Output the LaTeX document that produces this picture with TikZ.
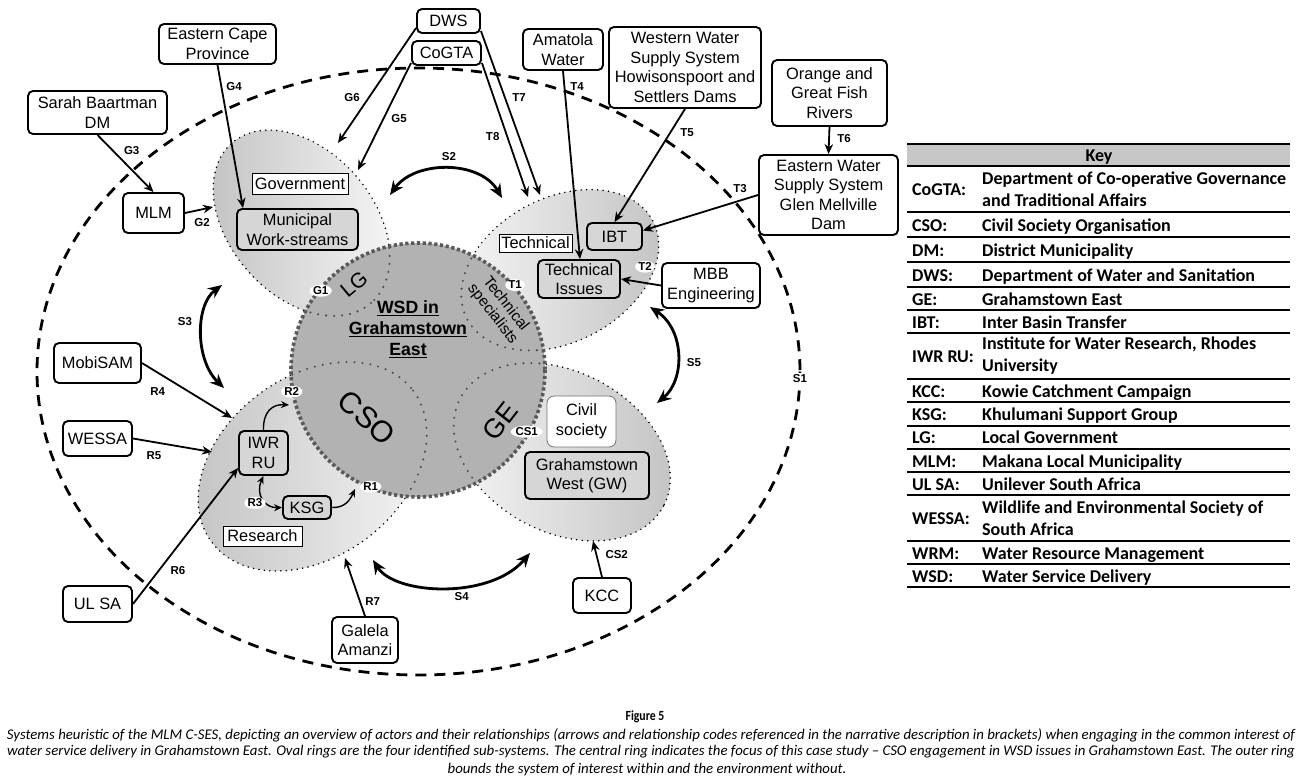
\documentclass[tikz,border=0pt]{standalone}
\usepackage{fontspec}
\setmainfont{Liberation Sans}
\newfontfamily\keyfont{Carlito}
\newfontfamily\figfont[FakeStretch=0.84]{Carlito}
\newfontfamily\capfont{Carlito}
\usetikzlibrary{arrows.meta,shapes.geometric,calc}
\begin{document}
\begin{tikzpicture}[x=1pt,y=-1pt,
  box/.style={draw,line width=1.9pt,rounded corners=5pt,fill=white,align=center,inner sep=0pt,font=\fontsize{16.4}{19.5}\selectfont},
  gbox/.style={box,fill=black!16},
  lbox/.style={draw,line width=0.8pt,fill=white,inner sep=0pt,font=\fontsize{16.4}{19.5}\selectfont},
  code/.style={font=\bfseries\fontsize{11.5}{12}\selectfont,inner sep=0.5pt},
  wcode/.style={code,fill=white,ellipse,inner sep=0.2pt},
  arr/.style={line width=1.8pt,-{Stealth[length=10pt,width=8.5pt]}},
  tarr/.style={line width=1.4pt,-{Stealth[length=8pt,width=7pt]}},
  darr/.style={line width=1.4pt,{Stealth[length=8pt,width=7pt]}-{Stealth[length=8pt,width=7pt]}},
  sarr/.style={line width=2.8pt,{Stealth[length=14pt,width=12pt]}-{Stealth[length=14pt,width=12pt]}},
  petal/.style={draw=black,line width=1.7pt,dash pattern=on 0pt off 5.5pt,line cap=round},
  innerline/.style={draw=black!70,line width=2.3pt,dash pattern=on 0pt off 8pt,line cap=round},
  keyab/.style={anchor=base west,inner sep=0pt,font=\keyfont\bfseries\fontsize{18}{22}\selectfont},
  keyd2/.style={anchor=west,inner sep=0pt,align=left,font=\keyfont\bfseries\fontsize{18}{22}\selectfont},
  capline/.style={font=\capfont\itshape\fontsize{14.8}{17}\selectfont,inner sep=0pt},
]
\useasboundingbox (0,0) rectangle (1302,782);
\fill[white] (0,0) rectangle (1302,782);

% outer ring
\draw[line width=2.8pt,dash pattern=on 11pt off 8pt] (418.5,371.5) ellipse (381.5 and 303.5);

% petals
\shade[left color=black!24,right color=black!3,rotate around={-49:(301.5,223)}] (301.5,223) ellipse (106 and 72);
\draw[petal,rotate around={-49:(301.5,223)}] (301.5,223) ellipse (106 and 72);
\shade[left color=black!3,right color=black!24,rotate around={28:(560,270)}] (560,270) ellipse (105 and 72);
\draw[petal,rotate around={28:(560,270)}] (560,270) ellipse (105 and 72);
\shade[left color=black!24,right color=black!3,rotate around={37:(312.5,466.5)}] (312.5,466.5) ellipse (126 and 90);
\draw[petal,rotate around={37:(312.5,466.5)}] (312.5,466.5) ellipse (126 and 90);
\shade[left color=black!3,right color=black!24,rotate around={-28:(562,452)}] (562,452) ellipse (115 and 80);
\draw[petal,rotate around={-28:(562,452)}] (562,452) ellipse (115 and 80);

% central ring
\fill[black!30] (418,370) circle (127);
\begin{scope}
  \clip (418,370) circle (127);
  \draw[innerline,rotate around={-49:(301.5,223)}] (301.5,223) ellipse (106 and 72);
  \draw[innerline,rotate around={28:(560,270)}] (560,270) ellipse (105 and 72);
  \draw[innerline,rotate around={37:(312.5,466.5)}] (312.5,466.5) ellipse (126 and 90);
  \draw[innerline,rotate around={-28:(562,452)}] (562,452) ellipse (115 and 80);
\end{scope}
\draw[draw=black!65,line width=3.6pt,dash pattern=on 3.2pt off 2.6pt] (418,370) circle (127);

\node[font=\bfseries\fontsize{17.7}{21}\selectfont,align=center,inner sep=0pt] (wsd) at (408,329) {\underline{WSD in}\\\underline{Grahamstown}\\\underline{East}};
\node[font=\fontsize{21}{24}\selectfont,rotate=40,inner sep=0pt] (lg) at (354,284) {LG};
\node[font=\fontsize{15.4}{16.5}\selectfont,rotate=-52,align=center,inner sep=0pt] (techsp) at (499,309) {Technical\\specialists};
\node[font=\fontsize{30}{32}\selectfont,rotate=-42,inner sep=0pt] (cso) at (367,418) {CSO};
\node[font=\fontsize{27}{30}\selectfont,rotate=52,inner sep=0pt] (ge) at (500,421) {GE};

% boxes
\node[box,minimum width=63pt,minimum height=24pt] (dws) at (448.5,21) {DWS};
\node[box,minimum width=69pt,minimum height=24pt] (cogta) at (446.5,53) {CoGTA};
\node[box,minimum width=80pt,minimum height=41pt] (amatola) at (563,49.5) {Amatola\\Water};
\node[box,minimum width=152pt,minimum height=81pt] (western) at (685,67.5) {Western Water\\Supply System\\Howisonspoort and\\Settlers Dams};
\node[box,minimum width=115pt,minimum height=66pt] (orange) at (829.5,93) {Orange and\\Great Fish\\Rivers};
\node[box,minimum width=139pt,minimum height=80pt] (eastwater) at (828.5,195) {Eastern Water\\Supply System\\Glen Mellville\\Dam};
\node[gbox,minimum width=55pt,minimum height=27pt] (ibt) at (614.5,236.5) {IBT};
\node[lbox,minimum width=73pt,minimum height=18pt] (techlbl) at (535.5,243) {Technical};
\node[gbox,minimum width=82pt,minimum height=38pt] (techiss) at (579,279) {Technical\\Issues};
\node[box,minimum width=98pt,minimum height=45pt] (mbb) at (711,285.5) {MBB\\Engineering};
\node[box,minimum width=117pt,minimum height=40pt] (ecp) at (217.5,44) {Eastern Cape\\Province};
\node[box,minimum width=139pt,minimum height=43pt] (sarah) at (97.5,112.5) {Sarah Baartman\\DM};
\node[box,minimum width=61pt,minimum height=40pt] (mlm) at (153.5,213) {MLM};
\node[lbox,minimum width=96pt,minimum height=21pt] (govlbl) at (300,183.5) {Government};
\node[gbox,minimum width=121pt,minimum height=41pt] (muni) at (297.5,229.5) {Municipal\\Work-streams};
\node[box,minimum width=87pt,minimum height=40pt] (mobisam) at (97.5,363) {MobiSAM};
\node[box,minimum width=69pt,minimum height=35pt] (wessa) at (97.5,438.5) {WESSA};
\node[box,minimum width=69pt,minimum height=36pt] (ulsa) at (97.5,604) {UL SA};
\node[gbox,minimum width=49pt,minimum height=44pt] (iwr) at (263.5,453) {IWR\\RU};
\node[gbox,minimum width=48pt,minimum height=23pt] (ksg) at (307,507.5) {KSG};
\node[lbox,minimum width=79pt,minimum height=20pt] (reslbl) at (262.5,536) {Research};
\node[box,minimum width=66pt,minimum height=46pt] (galela) at (365,640) {Galela\\Amanzi};
\node[box,draw=black!55,line width=0.8pt,rounded corners=7pt,minimum width=69pt,minimum height=51pt] (civil) at (581.5,421.5) {Civil\\society};
\node[gbox,minimum width=124pt,minimum height=47pt] (gw) at (587,475.5) {Grahamstown\\West (GW)};
\node[box,minimum width=58pt,minimum height=35pt] (kcc) at (602,595.5) {KCC};

% free ends
\coordinate (g2e) at (213,207);
\coordinate (g5e) at (358,170);
\coordinate (g6e) at (338,143);
\coordinate (t7e) at (540,195);
\coordinate (t8e) at (528,197);
\coordinate (r4e) at (232,418);
\coordinate (r5e) at (212,452);
\coordinate (r7e) at (345,558);
\coordinate (cs2e) at (593,541);
\coordinate (r2e) at (289,405);
\coordinate (r1e) at (355,489);
\coordinate (s2a) at (390,195);
\coordinate (s2b) at (502,198);
\coordinate (s3a) at (222,285);
\coordinate (s3b) at (224,388);
\coordinate (s4a) at (373,560);
\coordinate (s4b) at (530,553);
\coordinate (s5a) at (650,307);
\coordinate (s5b) at (657,403);

% connectors
\draw[arr] (sarah.south) -- (mlm.north);
\draw[arr] (mlm.east) -- (g2e);
\draw[arr] (ecp.south) -- ([xshift=-54.5pt]muni.north);
\draw[arr] ([yshift=-7pt]dws.west) -- (g6e);
\draw[arr] ([yshift=-10pt]cogta.west) -- (g5e);
\draw[arr] ([yshift=-10pt]dws.east) -- (t7e);
\draw[arr] ([yshift=-10pt]cogta.east) -- (t8e);
\draw[arr] (amatola.south) -- ([xshift=1pt]techiss.north);
\draw[arr] (western.south) -- (ibt.north);
\draw[arr] (orange.south) -- (eastwater.north);
\draw[arr] (eastwater.west) -- ([yshift=6pt]ibt.east);
\draw[arr] (mbb.west) -- (techiss.east);
\draw[arr] (mobisam.east) -- (r4e);
\draw[arr] (wessa.east) -- (r5e);
\draw[arr] (ulsa.east) -- ([yshift=8pt]iwr.south west);
\draw[arr] (galela.north) -- (r7e);
\draw[arr] (kcc.north) -- (cs2e);
\draw[tarr] (iwr.north) .. controls (263,412) and (272,404) .. (r2e);
\draw[tarr] (ksg.east) .. controls (345,508) and (350,500) .. (r1e);
\draw[darr] (iwr.south) .. controls (255,495) and (265,508) .. (ksg.west);
\draw[sarr] (s2a) .. controls (415,160) and (480,160) .. (s2b);
\draw[sarr] (s3a) .. controls (195,305) and (195,360) .. (s3b);
\draw[sarr] (s4a) .. controls (395,595) and (490,600) .. (s4b);
\draw[sarr] (s5a) .. controls (685,330) and (685,380) .. (s5b);

% codes
\node[code] (lG2) at (202,223) {G2};
\node[code] (lG3) at (131.7,150.7) {G3};
\node[code] (lG4) at (234,86.7) {G4};
\node[code] (lG5) at (399,119) {G5};
\node[code] (lG6) at (352,97.7) {G6};
\node[code] (lT3) at (740,189) {T3};
\node[code] (lT4) at (577,86.7) {T4};
\node[code] (lT5) at (687,132.7) {T5};
\node[code] (lT6) at (844,139) {T6};
\node[code] (lT7) at (519,98) {T7};
\node[code] (lT8) at (492.7,136.7) {T8};
\node[code] (lS2) at (449,156.7) {S2};
\node[code] (lS3) at (185,321.7) {S3};
\node[code] (lS4) at (461.7,596.7) {S4};
\node[code] (lS5) at (694,363) {S5};
\node[code] (lR4) at (157.7,391.7) {R4};
\node[code] (lR5) at (154,456) {R5};
\node[code] (lR6) at (178,570.7) {R6};
\node[code] (lR7) at (372.7,601.7) {R7};
\node[code] (lCS2) at (616.7,555) {CS2};
\node[wcode] (lG1) at (320.7,290.7) {G1};
\node[wcode] (lT1) at (515,285) {T1};
\node[wcode] (lT2) at (645,266.7) {T2};
\node[wcode] (lR1) at (370.7,486.7) {R1};
\node[wcode] (lR2) at (291.7,391.7) {R2};
\node[wcode] (lR3) at (255,503) {R3};
\node[wcode] (lCS1) at (526.7,431.7) {CS1};
\node[wcode] (lS1) at (800,379) {S1};

% key table
\fill[black!22] (907,144) rectangle (1290,166);
\draw[line width=2pt] (907,144) -- (1290,144);
\draw[line width=2pt] (907,166) -- (1290,166);
\foreach \yy in {212,237,262,287,310,333,379,402,426,449,472,495,541,564,587}
  \draw[line width=1.5pt] (907,\yy) -- (1290,\yy);
\node[font=\keyfont\bfseries\fontsize{18}{20}\selectfont,inner sep=0pt,anchor=base] (keyhead) at (1099,161) {Key};
\node[keyab] (a1) at (912,195) {CoGTA:};
\node[keyd2] (d1) at (982,189) {Department of Co-operative Governance\\and Traditional Affairs};
\node[keyab] (a2) at (912,231) {CSO:};
\node[keyab] (d2) at (982,231) {Civil Society Organisation};
\node[keyab] (a3) at (912,256) {DM:};
\node[keyab] (d3) at (982,256) {District Municipality};
\node[keyab] (a4) at (912,281) {DWS:};
\node[keyab] (d4) at (982,281) {Department of Water and Sanitation};
\node[keyab] (a5) at (912,305) {GE:};
\node[keyab] (d5) at (982,305) {Grahamstown East};
\node[keyab] (a6) at (912,328) {IBT:};
\node[keyab] (d6) at (982,328) {Inter Basin Transfer};
\node[keyab] (a7) at (912,362) {IWR RU:};
\node[keyd2] (d7) at (982,356) {Institute for Water Research, Rhodes\\University};
\node[keyab] (a8) at (912,397) {KCC:};
\node[keyab] (d8) at (982,397) {Kowie Catchment Campaign};
\node[keyab] (a9) at (912,420) {KSG:};
\node[keyab] (d9) at (982,420) {Khulumani Support Group};
\node[keyab] (a10) at (912,443) {LG:};
\node[keyab] (d10) at (982,443) {Local Government};
\node[keyab] (a11) at (912,467) {MLM:};
\node[keyab] (d11) at (982,467) {Makana Local Municipality};
\node[keyab] (a12) at (912,490) {UL SA:};
\node[keyab] (d12) at (982,490) {Unilever South Africa};
\node[keyab] (a13) at (912,524) {WESSA:};
\node[keyd2] (d13) at (982,518) {Wildlife and Environmental Society of\\South Africa};
\node[keyab] (a14) at (912,559) {WRM:};
\node[keyab] (d14) at (982,559) {Water Resource Management};
\node[keyab] (a15) at (912,582) {WSD:};
\node[keyab] (d15) at (982,582) {Water Service Delivery};

% caption
\node[font=\figfont\bfseries\fontsize{14}{16}\selectfont,inner sep=0pt] (fig) at (645,717) {Figure 5};
\node[capline] (cap1) at (651,735) {Systems heuristic of the MLM C-SES, depicting an overview of actors and their relationships (arrows and relationship codes referenced in the narrative description in brackets) when engaging in the common interest of};
\node[capline] (cap2) at (651,752) {water service delivery in Grahamstown East. Oval rings are the four identified sub-systems. The central ring indicates the focus of this case study – CSO engagement in WSD issues in Grahamstown East. The outer ring};
\node[capline] (cap3) at (647,770) {bounds the system of interest within and the environment without.};
\end{tikzpicture}
\end{document}
